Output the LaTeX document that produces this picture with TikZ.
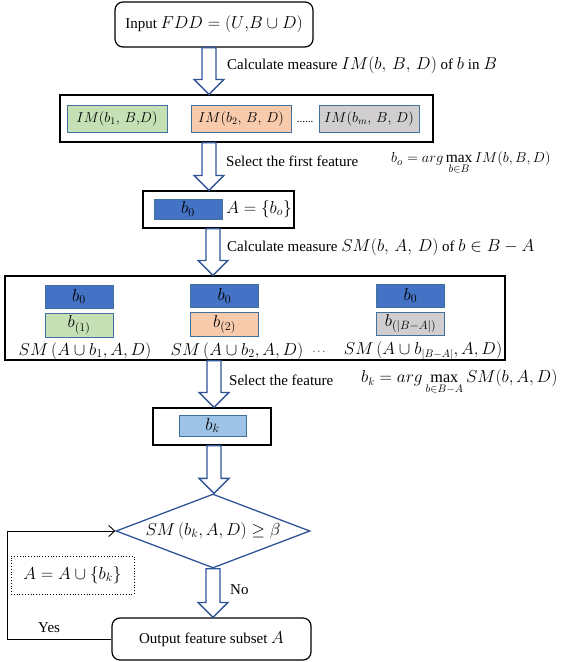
\documentclass[tikz,border=0pt]{standalone}
\usepackage{fontspec}
\setmainfont{Liberation Serif}
\usetikzlibrary{shapes.geometric,arrows.meta,calc}
\definecolor{ablue}{HTML}{2F5597}
\definecolor{bborder}{HTML}{41719C}
\definecolor{bdark}{HTML}{4472C4}
\definecolor{bgreen}{HTML}{C5E0B4}
\definecolor{borange}{HTML}{F8CBAD}
\definecolor{bgray}{HTML}{D0CECE}
\definecolor{blight}{HTML}{9DC3E6}
\newcommand\mth[1]{{\fontsize{16.5}{19}\selectfont$#1$}}
\newcommand\mths[2]{{\fontsize{#1}{19}\selectfont$#2$}}
\newcommand\harrow[2]{\draw[hollow] let \p1=(#1), \p2=(#2) in
  ({\x1-7pt},{\y1}) -- ({\x1+7pt},{\y1}) -- ({\x1+7pt},{\y2+15pt}) -- ({\x1+15pt},{\y2+15pt})
  -- ({\x1},{\y2}) -- ({\x1-15pt},{\y2+15pt}) -- ({\x1-7pt},{\y2+15pt}) -- cycle;}
\begin{document}
\begin{tikzpicture}[x=1pt,y=-1pt,font=\fontsize{15}{18}\selectfont,
  rbox/.style={draw=black,line width=1.2pt,rounded corners=8pt,inner sep=0pt},
  sbox/.style={draw=black,line width=1.2pt,inner sep=0pt},
  cbox/.style={draw=bborder,line width=1pt,inner sep=0pt},
  hollow/.style={draw=ablue,line width=1.3pt,fill=white,line join=miter},
  lbl/.style={anchor=west,inner sep=0pt}]
\useasboundingbox (0,0) rectangle (575,662);
% coordinates for block arrow axes
\coordinate (a1) at (209,0);
\coordinate (a3) at (213,0);
\coordinate (a4) at (214,0);
\coordinate (lp) at (7,0);
% input
\node[rbox,minimum width=198,minimum height=45] (in) at (214,24.5) {Input \mth{FDD=(U{,}B\cup D)}};
% IM row
\node[sbox,minimum width=373,minimum height=47] (im) at (246.5,118.5) {};
\node[cbox,fill=bgreen,minimum width=100,minimum height=27] (im1) at (117,118.5) {\mths{14.5}{IM(b_1,\,B{,}D)}};
\node[cbox,fill=borange,minimum width=100,minimum height=27] (im2) at (241,118.5) {\mths{14.5}{IM(b_2,\,B,\,D)}};
\node[cbox,fill=bgray,minimum width=100,minimum height=27] (im3) at (369,118.5) {\mths{14.5}{IM(b_m,\,B,\,D)}};
\node[inner sep=0pt,font=\fontsize{11}{12}\selectfont] (imd) at (305,122) {......};
% A = {b0}
\node[sbox,minimum width=151,minimum height=37] (a0) at (218.5,209.5) {};
\node[cbox,fill=bdark,minimum width=68,minimum height=20] (b0) at (188,209) {\mth{b_0}};
\node[inner sep=0pt] (a0t) at (259,209) {\mth{A=\{b_o\}}};
% SM row
\node[sbox,minimum width=500,minimum height=84] (sm) at (255,318) {};
\node[cbox,fill=bdark,minimum width=68,minimum height=23] (c1a) at (79,296.5) {\mth{b_0}};
\node[cbox,fill=bgreen,minimum width=68,minimum height=24] (c1b) at (79,325) {\mth{b_{(1)}}};
\node[inner sep=0pt] (c1t) at (85,351) {\mth{SM\,(A\cup b_1, A, D)}};
\node[cbox,fill=bdark,minimum width=68,minimum height=23] (c2a) at (224.5,296) {\mth{b_0}};
\node[cbox,fill=borange,minimum width=68,minimum height=24] (c2b) at (224.5,324.5) {\mth{b_{(2)}}};
\node[inner sep=0pt] (c2t) at (237,351) {\mth{SM\,(A\cup b_2, A, D)}};
\node[inner sep=0pt,font=\fontsize{11}{12}\selectfont] (cd) at (319,352) {$\cdots$};
\node[cbox,fill=bdark,minimum width=68,minimum height=23] (c3a) at (410.5,295.5) {\mth{b_0}};
\node[cbox,fill=bgray,minimum width=68,minimum height=23] (c3b) at (410.5,323.5) {\mth{b_{(|B-A|)}}};
\node[inner sep=0pt] (c3t) at (423,351) {\mths{16}{SM\,(A\cup b_{|B-A|}, A, D)}};
% bk
\node[sbox,minimum width=118,minimum height=37] (bk) at (212,426.5) {};
\node[cbox,fill=blight,minimum width=67,minimum height=21] (bki) at (212.5,425.5) {\mth{b_k}};
% diamond
\node[diamond,aspect=2.62,draw=ablue,line width=1.3pt,minimum width=194,minimum height=74,inner sep=0pt] (dia) at (213,531) {\mth{SM\,(b_k, A, D)\geq\beta}};
% output
\node[rbox,minimum width=199,minimum height=42] (out) at (211.5,639) {Output feature subset \mth{A}};
% dotted box
\node[draw=black,dotted,line width=0.8pt,minimum width=123,minimum height=38,inner sep=0pt] (upd) at (72.5,575) {\mth{A=A\cup\{b_k\}}};
% block arrows
\harrow{in.south -| a1}{im.north -| a1}
\harrow{im.south -| a1}{a0.north -| a1}
\harrow{a0.south -| a3}{sm.north -| a3}
\harrow{sm.south -| a4}{bk.north -| a4}
\harrow{bk.south -| a4}{dia.north}
\harrow{dia.south}{out.north -| dia.south}
% labels
\node[lbl] (l1) at (227,65) {Calculate measure \mth{IM(b,\,B,\,D)} of \mth{b} in \mth{B}};
\node[lbl] (l2) at (226,161) {Select the first feature};
\node[lbl] (l2m) at (391,163) {\mths{15.5}{b_o=arg\max\limits_{b\in B}IM(b,B,D)}};
\node[lbl] (l3) at (227,247) {Calculate measure \mth{SM(b,\,A,\,D)} of \mth{b\in B-A}};
\node[lbl] (l4) at (229,380) {Select the feature};
\node[lbl] (l4m) at (361,382) {\mths{16.2}{b_k=arg\max\limits_{b\in B-A}SM(b,A,D)}};
\node[lbl] (lno) at (230,590) {No};
\node[lbl] (lyes) at (38,628) {Yes};
% loop
\draw[line width=0.9pt,-{Straight Barb[length=6pt,width=11pt]}] (out.west) -- (out.west -| lp) -- (dia.west -| lp) -- (dia.west);
\end{tikzpicture}
\end{document}
